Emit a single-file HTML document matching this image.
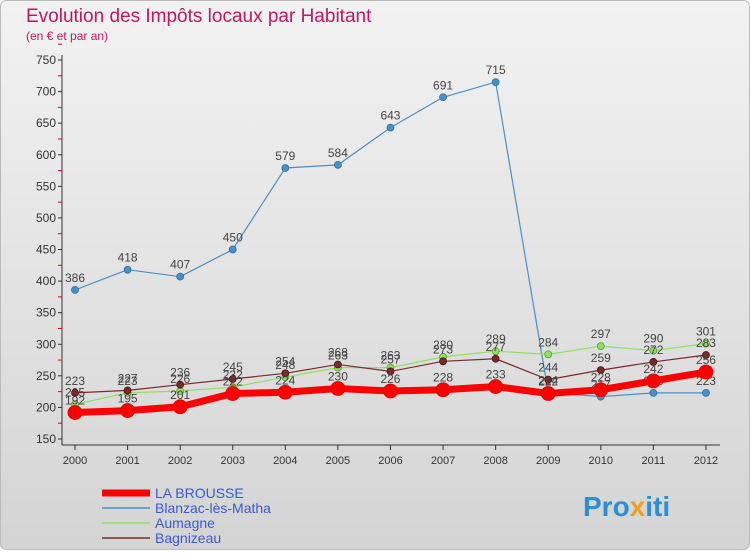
<!DOCTYPE html>
<html><head><meta charset="utf-8"><style>
body{margin:0;width:750px;height:550px;overflow:hidden;font-family:"Liberation Sans",sans-serif}
</style></head><body>
<svg id="c" width="750" height="550" xmlns="http://www.w3.org/2000/svg">
<defs><linearGradient id="bg" x1="0" y1="0" x2="0" y2="1"><stop offset="0" stop-color="#f2f2f2"/><stop offset="1" stop-color="#d4d4d4"/></linearGradient></defs>
<rect x="0.5" y="0.5" width="749" height="549" rx="6" fill="url(#bg)" stroke="#bbb"/>
<text x="26" y="22" font-size="19" fill="#c2185b">Evolution des Impôts locaux par Habitant</text>
<text x="26" y="40" font-size="12" fill="#c2185b">(en € et par an)</text>
<g id="axes"></g><g id="series"></g><g id="legend"></g>
<text x="583" y="516" font-size="28" font-weight="bold" fill="#2a8fd6">Pro<tspan fill="#f0a020">x</tspan>iti</text>
</svg>
<script>
const years=[2000,2001,2002,2003,2004,2005,2006,2007,2008,2009,2010,2011,2012];
const yTicks=[150,200,250,300,350,400,450,500,550,600,650,700,750];
const laBrousse=[192,195,201,222,224,230,226,228,233,222,228,242,256];
const blanzac=[386,418,407,450,579,584,643,691,715,224,217,223,223];
const aumagne=[205,223,226,232,248,263,263,280,289,284,297,290,301];
const bagnizeau=[223,227,236,245,254,268,257,273,277,244,259,272,283];
const names=["LA BROUSSE","Blanzac-lès-Matha","Aumagne","Bagnizeau"];
const NS="http://www.w3.org/2000/svg";
function X(i){return 75+i*52.58;}
function Y(v){return 439-(v-150)*379/600;}
function mk(t,a,p){const e=document.createElementNS(NS,t);for(const k in a)e.setAttribute(k,a[k]);p.appendChild(e);return e;}
const ax=document.getElementById('axes');
const yl=mk('line',{x1:62,y1:55,x2:62,y2:445,stroke:'#333'},ax);


const xl=mk('line',{x1:62,y1:445,x2:720,y2:445,stroke:'#333'},ax);


yTicks.forEach(v=>{
  mk('line',{x1:58,y1:Y(v),x2:62,y2:Y(v),stroke:'#333'},ax);
  mk('line',{x1:58,y1:Y(v+25),x2:62,y2:Y(v+25),stroke:'#e00'},ax);
  const t=mk('text',{x:56,y:Y(v)+4,'font-size':12,'text-anchor':'end',fill:'#333'},ax);t.textContent=v;
  
  
});
years.forEach((y,i)=>{
  mk('line',{x1:X(i),y1:445,x2:X(i),y2:450,stroke:'#333'},ax);
  const t=mk('text',{x:X(i),y:464,'font-size':11,'text-anchor':'middle',fill:'#333'},ax);t.textContent=y;
  
  
});
const sg=document.getElementById('series');
function series(data,color,w,r,name,dark){
  const g=mk('g',{},sg);
  
  
  mk('polyline',{points:data.map((v,i)=>X(i)+','+Y(v)).join(' '),fill:'none',stroke:color,'stroke-width':w},g);
  data.forEach((v,i)=>{
    const c=mk('circle',{cx:X(i),cy:Y(v),r:r,fill:color,stroke:dark,'stroke-width':0.8},g);
    
    
    const t=mk('text',{x:X(i),y:Y(v)-8,'font-size':12,'text-anchor':'middle',fill:'#444'},g);t.textContent=v;
    
    
  });
}
series(blanzac,'#4a90c8',1.2,3.5,'series-blanzac','#2a70a8');
series(aumagne,'#8ee060',1.2,3.5,'series-aumagne','#5a9a30');
series(bagnizeau,'#7a2a2a',1.2,3.5,'series-bagnizeau','#501010');
series(laBrousse,'#ff0000',7,7,'series-la-brousse','#dd0000');
const lg=document.getElementById('legend');
const cols=['#ff0000','#4a90c8','#8ee060','#7a2a2a'],ws=[7,1.5,1.5,1.5];
names.forEach((n,i)=>{
  const g=mk('g',{},lg);
  
  
  const y=493+i*15;
  mk('line',{x1:102,y1:y,x2:150,y2:y,stroke:cols[i],'stroke-width':ws[i]},g);
  const t=mk('text',{x:155,y:y+5,'font-size':14,fill:'#3a5ad8'},g);t.textContent=n;
});
</script>
</body></html>
